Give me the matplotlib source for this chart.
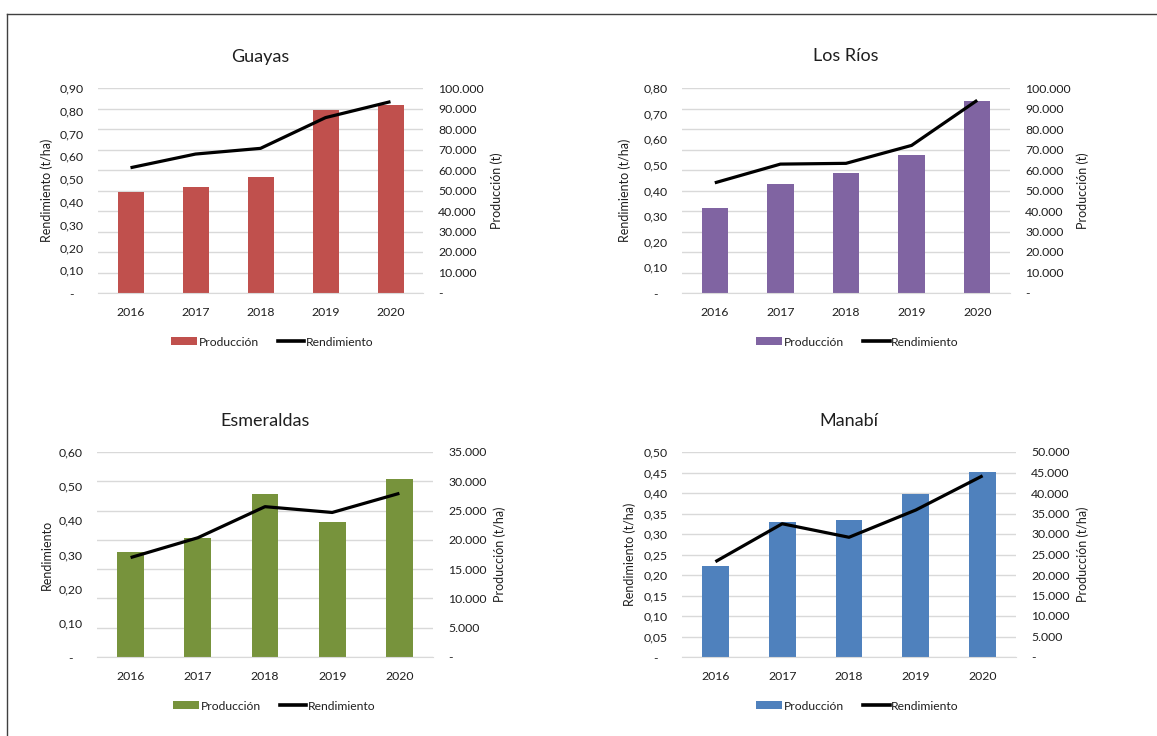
import matplotlib
matplotlib.use("Agg")
import matplotlib.pyplot as plt
from matplotlib.lines import Line2D
from matplotlib.patches import Patch
from matplotlib.ticker import FixedLocator, FixedFormatter

W, H = 1157, 736
plt.rcParams['font.family'] = ['Lato', 'DejaVu Sans']

years = ["2016", "2017", "2018", "2019", "2020"]

guayas_prod = [49300, 51700, 56600, 89100, 91700]
guayas_rend = [0.55, 0.61, 0.635, 0.77, 0.84]

losrios_prod = [41300, 53000, 58700, 67300, 93500]
losrios_rend = [0.43, 0.503, 0.506, 0.576, 0.752]

esmeraldas_prod = [18000, 20300, 27900, 23000, 30400]
esmeraldas_rend = [0.291, 0.349, 0.44, 0.423, 0.479]

manabi_prod = [22100, 33000, 33400, 39800, 45200]
manabi_rend = [0.2325, 0.325, 0.292, 0.3585, 0.442]

left_ticks_g = [0, 0.1, 0.2, 0.3, 0.4, 0.5, 0.6, 0.7, 0.8, 0.9]
right_ticks_g = [0, 10000, 20000, 30000, 40000, 50000, 60000, 70000, 80000, 90000, 100000]
left_ticks_l = [0, 0.1, 0.2, 0.3, 0.4, 0.5, 0.6, 0.7, 0.8]
right_ticks_l = right_ticks_g
left_ticks_e = [0, 0.1, 0.2, 0.3, 0.4, 0.5, 0.6]
right_ticks_e = [0, 5000, 10000, 15000, 20000, 25000, 30000, 35000]
left_ticks_m = [0, 0.05, 0.1, 0.15, 0.2, 0.25, 0.3, 0.35, 0.4, 0.45, 0.5]
right_ticks_m = [0, 5000, 10000, 15000, 20000, 25000, 30000, 35000, 40000, 45000, 50000]

fig = plt.figure(figsize=(W / 100, H / 100), dpi=100)

# outer border
fig.add_artist(Line2D([7 / W, 7 / W], [0, 1 - 14 / H], transform=fig.transFigure, color="#404040", lw=1.0))
fig.add_artist(Line2D([7 / W, 1], [1 - 14 / H, 1 - 14 / H], transform=fig.transFigure, color="#404040", lw=1.0))


def rect(x0, y0, x1, y1):
    return [x0 / W, 1 - y1 / H, (x1 - x0) / W, (y1 - y0) / H]


def fmt_left(v, dec):
    if v == 0:
        return "-   "
    return f"{v:.{dec}f}".replace(".", ",")


def fmt_right(v):
    if v == 0:
        return "-"
    return f"{int(v):,}".replace(",", ".")


TXT = "#1f1f1f"
TICK_FS = 8.8
LAB_FS = 9.0
LEG_FS = 8.7


def panel(box, title, prod, rend, color, lticks, ldec, rticks, lylabel, rylabel,
          title_y, lylab_x, rylab_x, legend_xy):
    x0, y0, x1, y1 = box
    ax2 = fig.add_axes(rect(x0, y0, x1, y1))
    ax1 = ax2.twinx()
    xs = list(range(len(years)))
    ax2.bar(xs, prod, width=0.4, color=color, zorder=2)
    ax2.set_ylim(0, rticks[-1])
    ax2.set_xlim(-0.5, len(years) - 0.5)
    ax2.yaxis.set_major_locator(FixedLocator(rticks))
    ax2.yaxis.set_major_formatter(FixedFormatter([fmt_right(v) for v in rticks]))
    ax2.yaxis.tick_right()
    ax2.grid(axis="y", color="#D9D9D9", lw=1.0, zorder=0)
    ax2.set_axisbelow(True)
    ax2.set_xticks(xs)
    ax2.set_xticklabels(years)

    ax1.plot(xs, rend, color="black", lw=2.3, solid_capstyle="butt", zorder=3)
    ax1.set_ylim(0, lticks[-1])
    ax1.yaxis.set_major_locator(FixedLocator(lticks))
    ax1.yaxis.set_major_formatter(FixedFormatter([fmt_left(v, ldec) for v in lticks]))
    ax1.yaxis.tick_left()
    ax1.set_zorder(ax2.get_zorder() + 1)
    ax1.patch.set_visible(False)

    for a in (ax1, ax2):
        for s in a.spines.values():
            s.set_visible(False)
        a.tick_params(length=0, labelsize=TICK_FS, labelcolor=TXT)
    ax2.spines["bottom"].set_visible(True)
    ax2.spines["bottom"].set_color("#D9D9D9")
    ax2.tick_params(axis="y", pad=11)
    ax1.tick_params(axis="y", pad=10)
    ax2.tick_params(axis="x", pad=10)

    cx = (x0 + x1) / 2
    cy = (y0 + y1) / 2
    fig.text(cx / W, 1 - title_y / H, title, ha="center", va="center", fontsize=13, color=TXT)
    fig.text(lylab_x / W, 1 - cy / H, lylabel, rotation=90, ha="center", va="center",
             fontsize=LAB_FS, color=TXT)
    fig.text(rylab_x / W, 1 - cy / H, rylabel, rotation=90, ha="center", va="center",
             fontsize=LAB_FS, color=TXT)

    handles = [Patch(facecolor=color, edgecolor="none"),
               Line2D([0], [0], color="black", lw=2.6)]
    fig.legend(handles, ["Producción", "Rendimiento"], loc="center",
               bbox_to_anchor=(legend_xy[0] / W, 1 - legend_xy[1] / H),
               ncol=2, frameon=False, fontsize=LEG_FS, handlelength=2.2,
               handleheight=0.6, handletextpad=0.1, columnspacing=1.6,
               labelcolor=TXT)


panel((98, 88, 423, 293), "Guayas", guayas_prod, guayas_rend, "#C0504D",
      left_ticks_g, 2, right_ticks_g, "Rendimiento (t/ha)", "Producción (t)",
      57, 47, 497, (272, 342))
panel((682, 88, 1010, 293), "Los Ríos", losrios_prod, losrios_rend, "#8064A2",
      left_ticks_l, 2, right_ticks_l, "Rendimiento (t/ha)", "Producción (t)",
      56, 625, 1083, (857, 342))
panel((97, 452, 433, 657), "Esmeraldas", esmeraldas_prod, esmeraldas_rend, "#77933C",
      left_ticks_e, 2, right_ticks_e, "Rendimiento", "Producción (t/ha)",
      421, 47, 500, (274, 706))
panel((682, 452, 1016, 657), "Manabí", manabi_prod, manabi_rend, "#4F81BD",
      left_ticks_m, 2, right_ticks_m, "Rendimiento (t/ha)", "Producción (t/ha)",
      421, 630, 1083, (857, 706))

fig.savefig("out.png", dpi=100, facecolor="white")
